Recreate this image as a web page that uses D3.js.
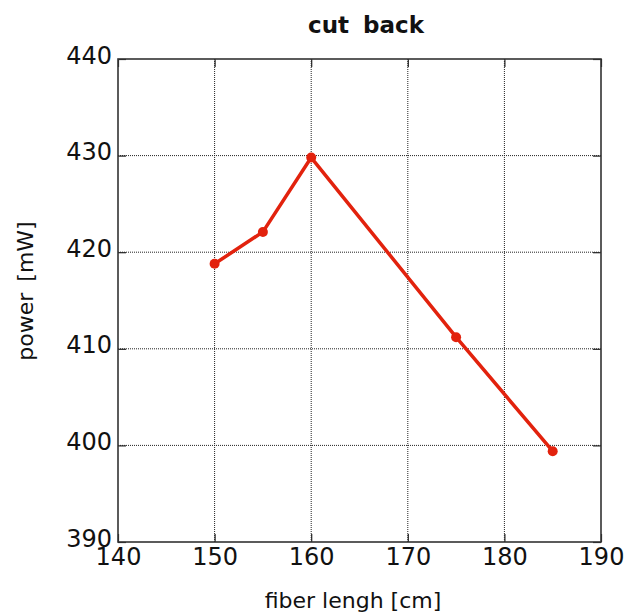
<!DOCTYPE html>
<html>
<head>
<meta charset="utf-8">
<script src="https://cdn.jsdelivr.net/npm/d3@7/dist/d3.min.js"></script>
<style>
  html, body { margin: 0; padding: 0; background: #fff; }
  svg { display: block; }
  text { font-family: "DejaVu Sans", Verdana, sans-serif; fill: #111; }
</style>
</head>
<body>
<svg id="chart" width="629" height="615"></svg>
<script>
// Data
const fiberLength = [150, 155, 160, 175, 185];
const power = [418.8, 422.1, 429.8, 411.2, 399.4];
const xTicks = [140, 150, 160, 170, 180, 190];
const yTicks = [390, 400, 410, 420, 430, 440];

const svg = d3.select("#chart");
const margin = { left: 118, top: 59, right: 28, bottom: 73 };
const W = 629, H = 615;
const iw = W - margin.left - margin.right;
const ih = H - margin.top - margin.bottom;

const x = d3.scaleLinear().domain([140, 190]).range([margin.left, margin.left + iw]);
const y = d3.scaleLinear().domain([390, 440]).range([margin.top + ih, margin.top]);

// grid (dotted)
const grid = svg.append("g");
grid.selectAll("line.gx").data(xTicks.slice(1, -1)).join("line")
  .attr("x1", d => x(d)).attr("x2", d => x(d))
  .attr("y1", margin.top).attr("y2", margin.top + ih)
  .attr("stroke", "#222").attr("stroke-width", 1).attr("stroke-dasharray", "1,1");
grid.selectAll("line.gy").data(yTicks.slice(1, -1)).join("line")
  .attr("y1", d => y(d)).attr("y2", d => y(d))
  .attr("x1", margin.left).attr("x2", margin.left + iw)
  .attr("stroke", "#222").attr("stroke-width", 1).attr("stroke-dasharray", "1,1");

// axes with inward ticks
const tickLen = 8;
const axB = svg.append("g").attr("transform", `translate(0,${margin.top + ih})`)
  .call(d3.axisBottom(x).tickValues(xTicks).tickSize(-tickLen).tickPadding(0).tickFormat(d3.format("d")));
const axT = svg.append("g").attr("transform", `translate(0,${margin.top})`)
  .call(d3.axisTop(x).tickValues(xTicks).tickSize(-tickLen).tickFormat(""));
const axL = svg.append("g").attr("transform", `translate(${margin.left},0)`)
  .call(d3.axisLeft(y).tickValues(yTicks).tickSize(-tickLen).tickPadding(0).tickFormat(d3.format("d")));
const axR = svg.append("g").attr("transform", `translate(${margin.left + iw},0)`)
  .call(d3.axisRight(y).tickValues(yTicks).tickSize(-tickLen).tickFormat(""));

[axB, axT, axL, axR].forEach(a => {
  a.select(".domain").remove();
  a.selectAll(".tick line").attr("stroke", "#222").attr("stroke-width", 1.2);
});
axB.selectAll(".tick text")
  .attr("font-family", "DejaVu Sans, sans-serif").attr("font-size", 24)
  .attr("fill", "#111").attr("dy", null).attr("y", 23);
axL.selectAll(".tick text")
  .attr("font-family", "DejaVu Sans, sans-serif").attr("font-size", 24)
  .attr("fill", "#111").attr("dy", null).attr("x", -6).attr("y", 4);

// frame
svg.append("rect")
  .attr("x", margin.left).attr("y", margin.top)
  .attr("width", iw).attr("height", ih)
  .attr("fill", "none").attr("stroke", "#333").attr("stroke-width", 1.6);

// line
const pts = fiberLength.map((d, i) => [d, power[i]]);
svg.append("path")
  .datum(pts)
  .attr("d", d3.line().x(d => x(d[0])).y(d => y(d[1])))
  .attr("fill", "none").attr("stroke", "#e2220d").attr("stroke-width", 3.5)
  .attr("stroke-linejoin", "round");
svg.selectAll("circle.pt").data(pts).join("circle")
  .attr("cx", d => x(d[0])).attr("cy", d => y(d[1])).attr("r", 5)
  .attr("fill", "#e2220d");

// titles
svg.append("text").attr("x", 366).attr("y", 33).attr("text-anchor", "middle")
  .attr("font-size", 23).attr("font-weight", "bold").attr("word-spacing", 6)
  .text("cut back");
svg.append("text").attr("x", 353).attr("y", 608).attr("text-anchor", "middle")
  .attr("font-size", 22).text("fiber lengh [cm]");
svg.append("text").attr("transform", "translate(33,291) rotate(-90)")
  .attr("text-anchor", "middle").attr("font-size", 22).attr("word-spacing", 4)
  .text("power [mW]");
</script>
</body>
</html>
